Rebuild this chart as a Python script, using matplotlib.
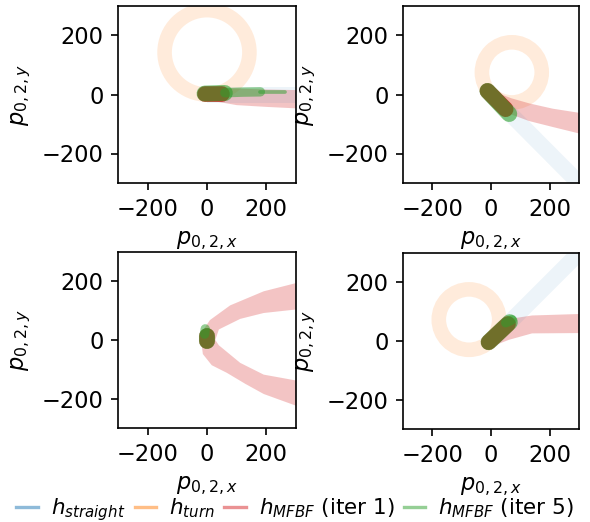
import matplotlib
matplotlib.use("Agg")
import matplotlib.pyplot as plt
from matplotlib.lines import Line2D
from matplotlib.patches import Circle, Polygon

plt.rcParams["font.size"] = 10.8

# panel order: top-left, top-right, bottom-left, bottom-right
# h_straight: straight-line prediction
straight_x = [[0, 300], [0, 300], [], [0, 300]]
straight_y = [[0, 0], [0, -300], [], [0, 300]]

# h_turn: constant turn (circle through origin)
turn_center = [(0, 143), (71, 75), None, (-75, 73)]
turn_radius = [143, 102, None, 103]

# h_MFBF iter 1: spread of trajectories (band outline)
iter1_band_x = [
    [20, 100, 200, 300, 300, 200, 100, 20],
    [0, 30, 70, 130, 210, 300, 300, 210, 130, 70, 30, 0],
    [300, 191, 78, 10, -14, -20, -14, 16, 67, 130, 191, 300,
     300, 191, 112, 40, 28, 40, 112, 191, 300],
    [0, 40, 61, 140, 300, 300, 140, 61, 20, 0],
]
iter1_band_y = [
    [20, 20, 17, 15, -47, -42, -36, -22],
    [12, 2, -13, -30, -48, -62, -132, -110, -90, -68, -48, -28],
    [194, 166, 118, 68, 32, 0, -48, -86, -112, -150, -184, -224,
     -138, -118, -78, -18, 0, 36, 72, 92, 104],
    [20, 60, 75, 87, 92, 27, 26, 4, -12, -17],
]
# dense core of iter 1 trajectories near the origin
iter1_core_x = [[-8, 50], [-12, 50], [0, 0], [-8, 58]]
iter1_core_y = [[3, 3], [12, -50], [-3, 12], [-4, 58]]

# h_MFBF iter 5
iter5_x = [[-8, 60], [-12, 62], [0, 0], [-8, 64]]
iter5_y = [[3, 5], [12, -66], [-3, 12], [-4, 64]]
iter5_tail_x = [[60, 120, 180], [], [-8, -6], [50, 72]]
iter5_tail_y = [[6, 8, 9], [], [20, 38], [62, 72]]
iter5_tip_x = [[180, 262], [], [], []]
iter5_tip_y = [[9, 9], [], [], []]

labels = [r"$h_{straight}$", r"$h_{turn}$", r"$h_{MFBF}$ (iter 1)", r"$h_{MFBF}$ (iter 5)"]

W, H = 590, 522
fig = plt.figure(figsize=(W / 150, H / 150), dpi=150)

# axes boxes in pixels: left, top, right, bottom
boxes = [(118, 6, 296, 183), (403, 6, 579, 183), (118, 252, 296, 428), (403, 253, 579, 429)]

for i, (l, t, r, b) in enumerate(boxes):
    ax = fig.add_axes([l / W, 1 - b / H, (r - l) / W, (b - t) / H])

    if straight_x[i]:
        ax.plot(straight_x[i], straight_y[i], color="tab:blue", alpha=0.08,
                lw=7.7, solid_capstyle="butt")
    if turn_center[i] is not None:
        ax.add_patch(Circle(turn_center[i], turn_radius[i], fill=False,
                            edgecolor="tab:orange", alpha=0.15, lw=7.0))

    ax.add_patch(Polygon(list(zip(iter1_band_x[i], iter1_band_y[i])), closed=True,
                         facecolor="tab:red", alpha=0.27, edgecolor="none"))
    ax.plot(iter1_core_x[i], iter1_core_y[i], color="tab:red", alpha=1.0,
            lw=7.5, solid_capstyle="round")

    ax.plot(iter5_x[i], iter5_y[i], color="tab:green", alpha=0.6,
            lw=7.7, solid_capstyle="round")
    if iter5_tail_x[i]:
        ax.plot(iter5_tail_x[i], iter5_tail_y[i], color="tab:green", alpha=0.5,
                lw=4.5, solid_capstyle="round")
    if iter5_tip_x[i]:
        ax.plot(iter5_tip_x[i], iter5_tip_y[i], color="tab:green", alpha=0.5,
                lw=1.8, solid_capstyle="round")

    ax.set_xlim(-300, 300)
    ax.set_ylim(-300, 300)
    ax.set_xticks([-200, 0, 200])
    ax.set_yticks([-200, 0, 200])
    ax.set_xlabel(r"$p_{0,2,x}$")
    ax.set_ylabel(r"$p_{0,2,y}$")

handles = [Line2D([], [], color=c, alpha=0.5, lw=1.6)
           for c in ["tab:blue", "tab:orange", "tab:red", "tab:green"]]
fig.legend(handles, labels, loc="center", bbox_to_anchor=(0.5, (H - 510) / H),
           ncol=4, frameon=False, handlelength=1.0, handletextpad=0.6,
           columnspacing=0.45, borderaxespad=0, fontsize=10.3)

fig.savefig("out.png", dpi=150)
